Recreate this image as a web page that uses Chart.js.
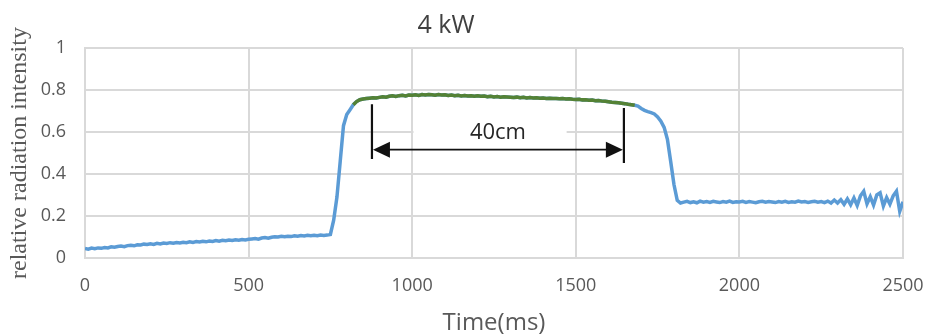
<!DOCTYPE html>
<html>
<head>
<meta charset="utf-8">
<title>4 kW</title>
<script src="https://cdn.jsdelivr.net/npm/chart.js@4/dist/chart.umd.min.js"></script>
<style>
  html, body { margin: 0; padding: 0; background: #fff; }
  #wrap { width: 926px; height: 335px; }
</style>
</head>
<body>
<div id="wrap"><canvas id="radiationChart"></canvas></div>
<script>
// time axis, ms (10 ms steps)
const timeMs = [
    0, 10, 20, 30, 40, 50, 60, 70, 80, 90,
    100, 110, 120, 130, 140, 150, 160, 170, 180, 190,
    200, 210, 220, 230, 240, 250, 260, 270, 280, 290,
    300, 310, 320, 330, 340, 350, 360, 370, 380, 390,
    400, 410, 420, 430, 440, 450, 460, 470, 480, 490,
    500, 510, 520, 530, 540, 550, 560, 570, 580, 590,
    600, 610, 620, 630, 640, 650, 660, 670, 680, 690,
    700, 710, 720, 730, 740, 750, 760, 770, 780, 790,
    800, 810, 820, 830, 840, 850, 860, 870, 880, 890,
    900, 910, 920, 930, 940, 950, 960, 970, 980, 990,
    1000, 1010, 1020, 1030, 1040, 1050, 1060, 1070, 1080, 1090,
    1100, 1110, 1120, 1130, 1140, 1150, 1160, 1170, 1180, 1190,
    1200, 1210, 1220, 1230, 1240, 1250, 1260, 1270, 1280, 1290,
    1300, 1310, 1320, 1330, 1340, 1350, 1360, 1370, 1380, 1390,
    1400, 1410, 1420, 1430, 1440, 1450, 1460, 1470, 1480, 1490,
    1500, 1510, 1520, 1530, 1540, 1550, 1560, 1570, 1580, 1590,
    1600, 1610, 1620, 1630, 1640, 1650, 1660, 1670, 1680, 1690,
    1700, 1710, 1720, 1730, 1740, 1750, 1760, 1770, 1780, 1790,
    1800, 1810, 1820, 1830, 1840, 1850, 1860, 1870, 1880, 1890,
    1900, 1910, 1920, 1930, 1940, 1950, 1960, 1970, 1980, 1990,
    2000, 2010, 2020, 2030, 2040, 2050, 2060, 2070, 2080, 2090,
    2100, 2110, 2120, 2130, 2140, 2150, 2160, 2170, 2180, 2190,
    2200, 2210, 2220, 2230, 2240, 2250, 2260, 2270, 2280, 2290,
    2300, 2310, 2320, 2330, 2340, 2350, 2360, 2370, 2380, 2390,
    2400, 2410, 2420, 2430, 2440, 2450, 2460, 2470, 2480, 2490,
    2500
];

// relative radiation intensity at each time above
const intensity = [
    0.045, 0.042, 0.047, 0.044, 0.048, 0.046, 0.050, 0.048, 0.053, 0.051,
    0.055, 0.057, 0.054, 0.059, 0.061, 0.058, 0.063, 0.062, 0.066, 0.064,
    0.068, 0.065, 0.070, 0.067, 0.071, 0.069, 0.073, 0.070, 0.074, 0.072,
    0.075, 0.073, 0.077, 0.074, 0.078, 0.076, 0.080, 0.077, 0.081, 0.079,
    0.083, 0.080, 0.084, 0.082, 0.086, 0.083, 0.087, 0.085, 0.088, 0.086,
    0.089, 0.091, 0.093, 0.090, 0.095, 0.097, 0.094, 0.099, 0.101, 0.100,
    0.103, 0.101, 0.104, 0.102, 0.106, 0.104, 0.107, 0.105, 0.108, 0.106,
    0.108, 0.106, 0.109, 0.107, 0.109, 0.112, 0.180, 0.290, 0.460, 0.630,
    0.683, 0.706, 0.730, 0.745, 0.754, 0.757, 0.759, 0.761, 0.763, 0.762,
    0.765, 0.768, 0.766, 0.770, 0.772, 0.769, 0.773, 0.775, 0.772, 0.776,
    0.775, 0.777, 0.774, 0.778, 0.776, 0.779, 0.777, 0.775, 0.778, 0.776,
    0.777, 0.774, 0.776, 0.773, 0.775, 0.772, 0.774, 0.771, 0.773, 0.770,
    0.772, 0.770, 0.771, 0.768, 0.770, 0.767, 0.769, 0.766, 0.768, 0.767,
    0.766, 0.764, 0.766, 0.763, 0.765, 0.762, 0.764, 0.762, 0.763, 0.761,
    0.762, 0.760, 0.761, 0.759, 0.760, 0.758, 0.759, 0.757, 0.758, 0.756,
    0.755, 0.756, 0.753, 0.754, 0.751, 0.752, 0.749, 0.750, 0.747, 0.746,
    0.744, 0.742, 0.741, 0.739, 0.737, 0.735, 0.732, 0.730, 0.727, 0.723,
    0.712, 0.703, 0.697, 0.692, 0.686, 0.672, 0.652, 0.622, 0.565, 0.460,
    0.350, 0.275, 0.262, 0.266, 0.270, 0.264, 0.268, 0.263, 0.271, 0.266,
    0.269, 0.265, 0.270, 0.267, 0.264, 0.269, 0.266, 0.271, 0.265, 0.268,
    0.267, 0.270, 0.265, 0.269, 0.266, 0.263, 0.268, 0.270, 0.266, 0.269,
    0.267, 0.264, 0.269, 0.266, 0.270, 0.265, 0.268, 0.266, 0.271, 0.267,
    0.269, 0.265, 0.268, 0.270, 0.266, 0.269, 0.264, 0.271, 0.262, 0.276,
    0.262, 0.278, 0.256, 0.281, 0.254, 0.286, 0.250, 0.296, 0.318, 0.258,
    0.292, 0.252, 0.300, 0.310, 0.248, 0.288, 0.256, 0.296, 0.318, 0.222,
    0.268
];

// highlighted (green) stretch of the plateau
const plateauStart = 820;
const plateauEnd = 1680;

// "40cm" dimension marker
const markerFrom = 877;
const markerTo = 1647;
const markerY = 0.516;
const markerLabel = '40cm';

const xTicks = [0, 500, 1000, 1500, 2000, 2500];
const yTicks = [0, 0.2, 0.4, 0.6, 0.8, 1];

const blueSeries = timeMs.map((t, i) => ({x: t, y: intensity[i]}));
const greenSeries = blueSeries.filter(p => p.x >= plateauStart && p.x <= plateauEnd);

const tickColor = '#595959';
const gridColor = '#d9d9d9';

const markerPlugin = {
    id: 'markerPlugin',
    beforeDatasetsDraw(chart) {
        // white box behind the label hides part of the 0.6 gridline
        const {ctx, scales: {x, y}} = chart;
        ctx.save();
        ctx.fillStyle = '#fff';
        const x0 = x.getPixelForValue(1004);
        const x1 = x.getPixelForValue(1472);
        const y0 = y.getPixelForValue(0.66);
        const y1 = y.getPixelForValue(0.55);
        ctx.fillRect(x0, y0, x1 - x0, y1 - y0);
        ctx.restore();
    },
    afterDatasetsDraw(chart) {
        const {ctx, scales: {x, y}} = chart;
        const xa = x.getPixelForValue(markerFrom);
        const xb = x.getPixelForValue(markerTo);
        const ym = y.getPixelForValue(markerY);
        ctx.save();
        ctx.strokeStyle = '#111';
        ctx.fillStyle = '#111';

        // end bars
        ctx.lineWidth = 2.2;
        ctx.beginPath();
        ctx.moveTo(xa, y.getPixelForValue(0.732));
        ctx.lineTo(xa, y.getPixelForValue(0.472));
        ctx.moveTo(xb, y.getPixelForValue(0.714));
        ctx.lineTo(xb, y.getPixelForValue(0.452));
        ctx.stroke();

        // shaft
        ctx.lineWidth = 1.6;
        ctx.beginPath();
        ctx.moveTo(xa + 10, ym);
        ctx.lineTo(xb - 10, ym);
        ctx.stroke();

        // heads
        const len = 17, half = 8;
        ctx.beginPath();
        ctx.moveTo(xa + 1, ym);
        ctx.lineTo(xa + 1 + len, ym - half);
        ctx.lineTo(xa + 1 + len, ym + half);
        ctx.closePath();
        ctx.fill();
        ctx.beginPath();
        ctx.moveTo(xb - 1, ym);
        ctx.lineTo(xb - 1 - len, ym - half);
        ctx.lineTo(xb - 1 - len, ym + half);
        ctx.closePath();
        ctx.fill();

        ctx.font = '22px "Open Sans"';
        ctx.fillStyle = '#262626';
        ctx.textAlign = 'center';
        ctx.textBaseline = 'alphabetic';
        ctx.fillText(markerLabel, (xa + xb) / 2, y.getPixelForValue(0.565));

        // chart title, sits a little left of the plot centre
        ctx.font = '25px "Open Sans"';
        ctx.fillStyle = '#404040';
        ctx.fillText('4 kW', 446, 33);
        ctx.restore();
    }
};

new Chart(document.getElementById('radiationChart'), {
    type: 'line',
    data: {
        datasets: [{
            label: 'plateau',
            data: greenSeries,
            borderColor: '#548235',
            borderWidth: 3.5,
            pointRadius: 0,
            tension: 0,
            order: 0
        }, {
            label: 'intensity',
            data: blueSeries,
            borderColor: '#5b9bd5',
            borderWidth: 3.5,
            pointRadius: 0,
            tension: 0,
            order: 1
        }]
    },
    options: {
        responsive: true,
        maintainAspectRatio: false,
        animation: false,
        layout: {
            padding: {top: 48, right: 23, left: 0, bottom: 0}
        },
        plugins: {
            legend: {display: false},
            tooltip: {enabled: false}
        },
        scales: {
            x: {
                type: 'linear',
                min: 0,
                max: 2500,
                afterFit: (scale) => {
                    scale.height = 77;
                    scale.paddingLeft = 0;
                    scale.paddingRight = 0;
                },
                afterBuildTicks: (scale) => { scale.ticks = xTicks.map(v => ({value: v})); },
                grid: {color: gridColor, lineWidth: 2, drawTicks: false},
                border: {color: gridColor, width: 2},
                ticks: {
                    color: tickColor,
                    padding: 17,
                    maxRotation: 0,
                    font: {family: 'Open Sans', size: 18},
                    callback: (value) => String(value)
                },
                title: {
                    display: true,
                    text: 'Time(ms)',
                    color: tickColor,
                    padding: {top: 1, bottom: 0},
                    font: {family: 'Open Sans', size: 24, lineHeight: 1}
                }
            },
            y: {
                min: 0,
                max: 1,
                afterFit: (scale) => {
                    scale.width = 85;
                    scale.paddingTop = 0;
                    scale.paddingBottom = 0;
                },
                afterBuildTicks: (scale) => { scale.ticks = yTicks.map(v => ({value: v})); },
                grid: {color: gridColor, lineWidth: 2, drawTicks: false},
                border: {color: gridColor, width: 2},
                ticks: {
                    color: tickColor,
                    padding: 19,
                    font: {family: 'Open Sans', size: 18},
                    callback: (value) => String(value)
                },
                title: {
                    display: true,
                    text: 'relative radiation intensity',
                    color: tickColor,
                    padding: {top: 8, bottom: 0},
                    font: {family: 'Liberation Serif', size: 24, lineHeight: 1}
                }
            }
        }
    },
    plugins: [markerPlugin]
});
</script>
</body>
</html>
